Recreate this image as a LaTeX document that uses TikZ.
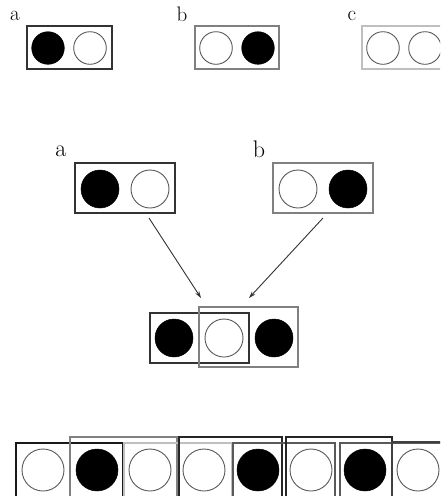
\documentclass[tikz,border=0pt]{standalone}
\usetikzlibrary{arrows.meta}
\begin{document}
\begin{tikzpicture}[x=1pt,y=-1pt,
  blk/.style={circle,fill=black,draw=black,line width=0.5pt,inner sep=0pt,minimum size=#1},
  wht/.style={circle,fill=white,draw=black!65,line width=0.9pt,inner sep=0pt,minimum size=#1},
  frm/.style={rectangle,draw=#1,line width=1.4pt,inner sep=0pt,fill=none},
  lbl/.style={anchor=base,inner sep=0pt,font=\fontsize{21}{21}\selectfont},
  biglbl/.style={anchor=base,inner sep=0pt,font=\fontsize{24}{24}\selectfont},
  link/.style={draw=black!80,line width=0.9pt,-{Stealth[length=7pt,width=4.5pt]}}
]
\useasboundingbox (0,0) rectangle (440,496);
\clip (0,0) rectangle (440,496);

% --- the three patterns ---
\node[lbl] (la) at (15,20) {a};
\node[lbl] (lb) at (182,21) {b};
\node[lbl] (lc) at (352,20) {c};

\node[blk=32.6pt] (a1) at (48,48) {};
\node[wht=32.6pt] (a2) at (90,48) {};
\node[frm=black!80,minimum width=85pt,minimum height=43pt] (pa) at (69.5,47.5) {};

\node[wht=32.6pt] (b1) at (216,48) {};
\node[blk=32.6pt] (b2) at (258,48) {};
\node[frm=black!50,minimum width=84pt,minimum height=43pt] (pb) at (237,47.5) {};

\node[wht=32.6pt] (c1) at (383,48) {};
\node[wht=32.6pt] (c2) at (425,48) {};
\node[frm=black!25,minimum width=85pt,minimum height=43pt] (pc) at (404.5,47.5) {};

% --- two patterns joined on their shared circle ---
\node[biglbl] (ma) at (61,156) {a};
\node[biglbl] (mb) at (259,157) {b};

\node[blk=38pt] (ma1) at (100,189) {};
\node[wht=38pt] (ma2) at (150,189) {};
\node[frm=black!80,minimum width=100pt,minimum height=50pt] (qa) at (125,188) {};

\node[wht=38pt] (mb1) at (298,189) {};
\node[blk=38pt] (mb2) at (348,189) {};
\node[frm=black!50,minimum width=100pt,minimum height=50pt] (qb) at (323,188) {};

\node[blk=38pt] (j1) at (174,338) {};
\node[wht=38pt] (j2) at (224,338) {};
\node[blk=38pt] (j3) at (274,338) {};
\node[frm=black!80,minimum width=99pt,minimum height=50pt] (ja) at (199.5,338) {};
\node[frm=black!50,minimum width=99pt,minimum height=60pt] (jb) at (248.5,337) {};

\coordinate (sa) at (149,218);
\coordinate (ea) at (201,298);
\coordinate (sb) at (323,218);
\coordinate (eb) at (249,298);
\draw[link] (sa) -- (ea);
\draw[link] (sb) -- (eb);

% --- the long sequence ---
\foreach \x/\s [count=\i] in {43/wht,97/blk,150/wht,204/wht,258/blk,311/wht,365/blk,418/wht}
  \node[\s=42pt] (s\i) at (\x,470) {};

\foreach \l/\r/\t/\c [count=\i] in {
    16/123/443/black!90,
    70/177/437/black!50,
    124/232/443/black!25,
    179/282/437/black!85,
    233/335/443/black!65,
    286/392/437/black!85,
    340/446/443/black!65,
    392/500/442/black!75}
  \node[frm=\c,minimum width={\r-\l},minimum height={510-\t}]
    (w\i) at ({(\l+\r)/2},{(\t+510)/2}) {};
\end{tikzpicture}
\end{document}
